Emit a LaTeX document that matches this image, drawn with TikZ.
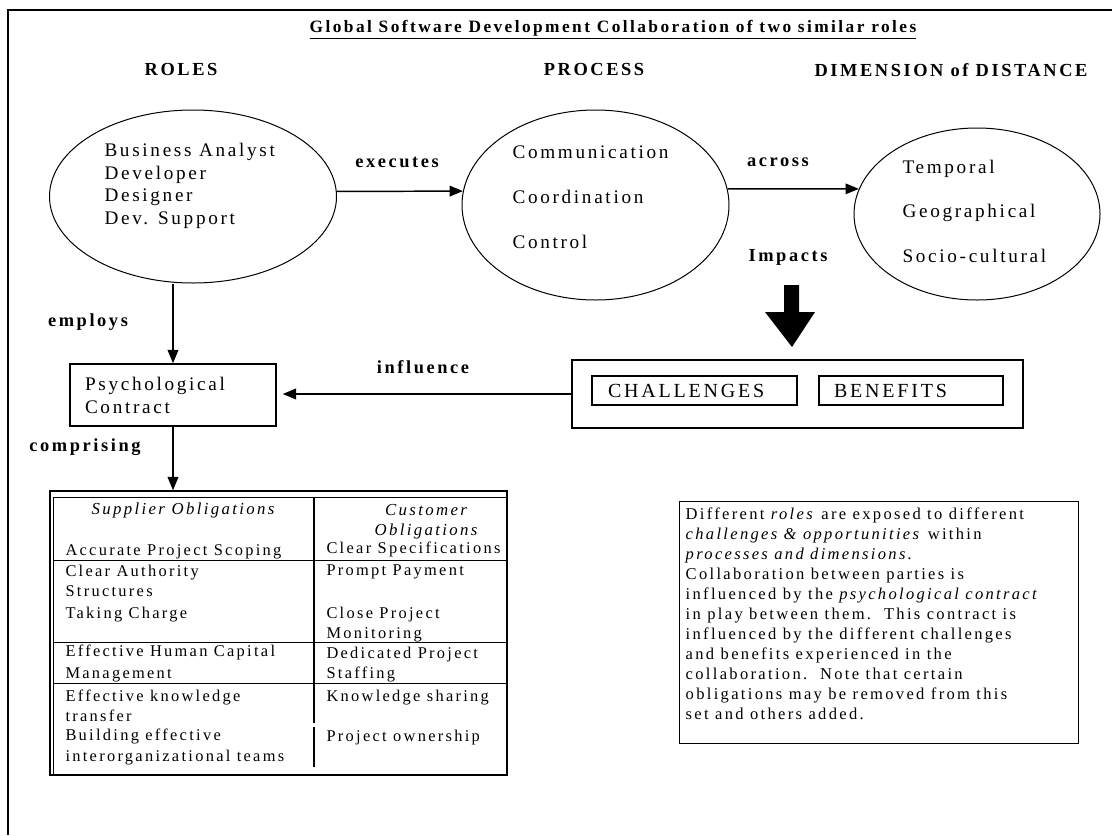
\documentclass[tikz,border=0pt]{standalone}
\usepackage{fontspec}
\setmainfont{Liberation Serif}[LetterSpace=14]
\usetikzlibrary{shapes.geometric, arrows.meta}

\begin{document}
\begin{tikzpicture}[x=0.75pt, y=-0.75pt, >={Triangle[length=10pt,width=8pt]}, line width=0.75pt,
    every node/.style={inner sep=0pt},
    ttl/.style={font=\bfseries\fontsize{13pt}{15pt}\selectfont},
    lbl/.style={font=\bfseries\fontsize{13.8pt}{16pt}\selectfont},
    txt/.style={font=\fontsize{14.4pt}{16pt}\selectfont, anchor=mid west},
    cell/.style={font=\fontsize{12.3pt}{15pt}\selectfont, anchor=mid west},
    hcell/.style={font=\itshape\fontsize{12.6pt}{15pt}\selectfont, align=center},
    oval/.style={draw, ellipse, line width=0.75pt},
    framebox/.style={draw, rectangle, line width=1.1pt},
    capbox/.style={framebox, minimum height=21.75pt, align=left, font=\fontsize{15pt}{17pt}\selectfont},
    arr/.style={->, line width=1.1pt}]
    \useasboundingbox (0,0) rectangle (1112,835);

    % 1. outer frame
    \draw[line width=1.5pt] (1112,10) -- (8,10) -- (8,835);

    % 2. title and column heads
    \node[ttl] (title) at (613,30) {\underline{Global Software Development Collaboration of two similar roles}};
    \node[lbl] (hroles) at (181,69) {ROLES};
    \node[lbl] (hprocess) at (594,69) {PROCESS};
    \node[lbl] (hdist) at (951,70) {DIMENSION of DISTANCE};

    % 3. ellipses and their texts
    \node[oval, minimum width=215.25pt, minimum height=129.75pt] (roles) at (193,196.5) {};
    \node[oval, minimum width=200.25pt, minimum height=142.5pt] (process) at (595.5,205) {};
    \node[oval, minimum width=184.5pt, minimum height=129pt] (dimension) at (977,214) {};

    \foreach \t [count=\i] in {Business Analyst, Developer, Designer, Dev. Support}
        \node[txt] (role\i) at (104,131+22.6*\i) {\t};
    \foreach \t [count=\i] in {Communication, Coordination, Control}
        \node[txt] (proc\i) at (512,110+45*\i) {\t};
    \foreach \t [count=\i] in {Temporal, Geographical, Socio-cultural}
        \node[txt] (dim\i) at (902,125.5+44.5*\i) {\t};

    % 4. top arrows
    \draw[arr] (roles.2) -- (process.174);
    \node[lbl] (executes) at (397,162) {executes};
    \draw[arr] (process.7) -- (dimension.168);
    \node[lbl] (across) at (778,162) {across};
    \node[lbl] (impacts) at (788,257) {Impacts};

    % block arrow
    \fill (784,285) -- (799,285) -- (799,312) -- (815,312) -- (792,347) -- (765,312) -- (784,312) -- cycle;

    % 5. challenges / benefits
    \node[framebox, minimum width=338.25pt, minimum height=51pt] (cbbox) at (797.5,394) {};
    \node[capbox, text width=129.75pt, inner xsep=12pt] (challenges) at (694.5,390.5) {CHALLENGES};
    \node[capbox, text width=115.5pt, inner xsep=11.25pt] (benefits) at (911,390.5) {BENEFITS};

    % 6. psychological contract
    \node[framebox, minimum height=46.5pt, text width=132pt, inner xsep=11.25pt, align=left,
          font=\fontsize{14.4pt}{17.25pt}\selectfont] (psych) at (173,395) {Psychological\\Contract};
    \draw[arr] (roles.south -| psych.north) -- (psych.north);
    \node[lbl] (employs) at (88,322) {employs};
    \draw[arr, shorten >=4.5pt] (cbbox.west) -- (cbbox.west -| psych.east);
    \node[lbl] (influence) at (423,367) {influence};

    % 7. obligations table
    \node[framebox, minimum width=342.75pt, minimum height=213pt] (table) at (278.5,633) {};
    \draw[arr] (psych.south) -- (psych.south |- table.north);
    \node[lbl] (comprising) at (85,447) {comprising};

    \draw (53,497) -- (507,497);
    \draw (53,497) -- (53,775);
    \foreach \y in {560,642,683}
        \draw (53,\y) -- (507,\y);
    \draw[line width=1.1pt] (314,497) -- (314,723) (314,727) -- (314,767);

    \node[hcell] (suphead) at (183,510) {Supplier Obligations};
    \node[hcell] (cushead) at (426,522) {Customer\\Obligations};
    \foreach \y/\t [count=\i] in {552/Accurate Project Scoping, 573/Clear Authority, 593/Structures,
            615/Taking Charge, 653/Effective Human Capital, 675/Management, 698/Effective knowledge,
            718/transfer, 737/Building effective, 758/interorganizational teams}
        \node[cell] (sup\i) at (65,\y) {\t};
    \foreach \y/\t [count=\i] in {550/Clear Specifications, 572/Prompt Payment, 615/Close Project,
            635/Monitoring, 655/Dedicated Project, 675/Staffing, 698/Knowledge sharing, 738/Project ownership}
        \node[cell] (cus\i) at (326,\y) {\t};

    % 8. note
    \node[framebox, anchor=north west, inner sep=4.5pt, font=\fontsize{12.4pt}{15pt}\selectfont] (note) at (679,501)
        {\begin{minipage}[c][172.5pt][t]{290.25pt}
        Different \textit{roles} are exposed to different\\
        \textit{challenges \& opportunities} within\\
        \textit{processes and dimensions.}\\
        Collaboration between parties is\\
        influenced by the \textit{psychological contract}\\
        in play between them.\ \ This contract is\\
        influenced by the different challenges\\
        and benefits experienced in the\\
        collaboration.\ \ Note that certain\\
        obligations may be removed from this\\
        set and others added.
        \end{minipage}};
\end{tikzpicture}
\end{document}
